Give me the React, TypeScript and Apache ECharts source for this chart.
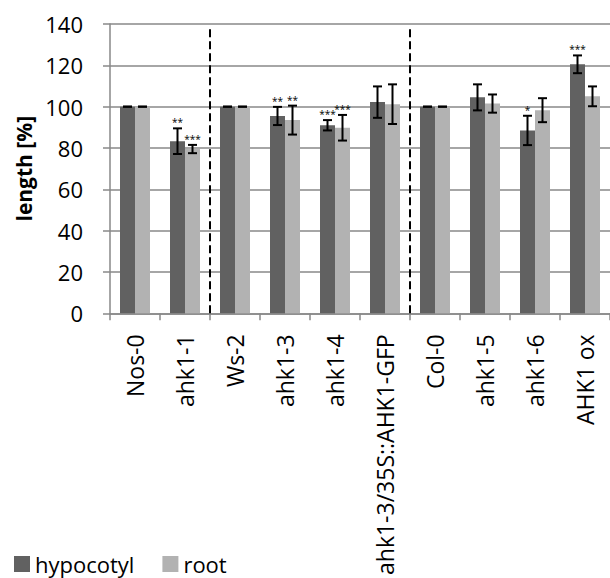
import React, { useEffect, useRef } from "react";
import * as echarts from "echarts";

// Relative hypocotyl and root length of cytokinin receptor lines vs. their wild types
const categories = [
  "Nos-0",
  "ahk1-1",
  "Ws-2",
  "ahk1-3",
  "ahk1-4",
  "ahk1-3/35S::AHK1-GFP",
  "Col-0",
  "ahk1-5",
  "ahk1-6",
  "AHK1 ox",
];
const hypocotyl = [100, 83.3, 100, 95.5, 91, 102.2, 100, 104.5, 88.5, 120.5];
const hypocotylErr = [0, 6.2, 0, 4.4, 2.5, 7.6, 0, 6.3, 7.1, 4.3];
const root = [100, 79.5, 100, 93.5, 89.8, 101.2, 100, 101.5, 98.3, 105];
const rootErr = [0, 2, 0, 7, 6.2, 9.6, 0, 4.4, 5.8, 4.8];
const hypocotylStars = ["", "**", "", "**", "***", "", "", "", "*", "***"];
const rootStars = ["", "***", "", "**", "***", "", "", "", "", ""];
// Category boundaries that separate the three wild-type groups
const groupDividers = [2, 6];
const dividerTop = 137.5;

const yTicks = { min: 0, max: 140, interval: 20 };

const FONT = "'Open Sans', 'DejaVu Sans', sans-serif";
const DARK = "#616161";
const LIGHT = "#b2b2b2";
const AXIS_GRAY = "#898989";
const BAR_W = 15;

function errorSeries(
  name: string,
  values: number[],
  errs: number[],
  stars: string[],
  offset: number
) {
  return {
    type: "custom",
    name,
    xAxisIndex: 0,
    yAxisIndex: 0,
    z: 5,
    data: values.map((v, i) => [i, v, errs[i]]),
    renderItem: (params: any, api: any) => {
      const i = api.value(0);
      const v = api.value(1);
      const e = api.value(2);
      const top = api.coord([i, v + e]);
      const bot = api.coord([i, v - e]);
      const x = top[0] + offset;
      const cap = 4.5;
      const lineStyle = { stroke: "#000", lineWidth: 2 };
      const children: any[] = [
        { type: "line", shape: { x1: x, y1: top[1], x2: x, y2: bot[1] }, style: lineStyle },
        { type: "line", shape: { x1: x - cap, y1: top[1], x2: x + cap, y2: top[1] }, style: lineStyle },
        { type: "line", shape: { x1: x - cap, y1: bot[1], x2: x + cap, y2: bot[1] }, style: lineStyle },
      ];
      const s = stars[params.dataIndex];
      if (s) {
        children.push({
          type: "text",
          x,
          y: top[1] - 6,
          style: {
            text: s,
            fill: "#000",
            font: `10px ${FONT}`,
            textAlign: "center",
            textVerticalAlign: "middle",
          },
        });
      }
      return { type: "group", children };
    },
  };
}

export default function App() {
  const ref = useRef<HTMLDivElement>(null);

  useEffect(() => {
    if (!ref.current) return;
    const chart = echarts.init(ref.current, undefined, { renderer: "svg" });
    chart.setOption({
      animation: false,
      backgroundColor: "#fff",
      textStyle: { fontFamily: FONT },
      grid: { left: 110, top: 24, width: 508, height: 290, containLabel: false },
      legend: {
        data: ["hypocotyl", "root"],
        left: 9,
        top: 548,
        icon: "rect",
        itemWidth: 16,
        itemHeight: 16,
        itemGap: 28,
        textStyle: { fontSize: 22, color: "#000", fontFamily: FONT },
      },
      xAxis: [
        {
          type: "category",
          data: categories,
          axisLine: { lineStyle: { color: AXIS_GRAY, width: 1.5 } },
          axisTick: { show: true, length: 7, lineStyle: { color: AXIS_GRAY, width: 1.5 } },
          axisLabel: {
            interval: 0,
            rotate: 90,
            margin: 21,
            fontSize: 23,
            color: "#000",
            fontFamily: FONT,
          },
          splitLine: { show: false },
        },
        {
          type: "value",
          min: 0,
          max: categories.length,
          show: false,
        },
      ],
      yAxis: {
        type: "value",
        min: yTicks.min,
        max: yTicks.max,
        interval: yTicks.interval,
        name: "length [%]",
        nameLocation: "middle",
        nameGap: 72,
        nameTextStyle: { fontSize: 21, fontWeight: "bold", color: "#000", fontFamily: FONT },
        axisLine: { show: true, lineStyle: { color: AXIS_GRAY, width: 1.5 } },
        axisTick: { show: true, length: 7, lineStyle: { color: AXIS_GRAY, width: 1.5 } },
        axisLabel: { margin: 27, fontSize: 22, color: "#000", fontFamily: FONT },
        splitLine: { lineStyle: { color: AXIS_GRAY, width: 1.5 } },
      },
      series: [
        {
          type: "bar",
          name: "hypocotyl",
          data: hypocotyl,
          barWidth: BAR_W,
          barGap: "0%",
          itemStyle: { color: DARK },
        },
        {
          type: "bar",
          name: "root",
          data: root,
          barWidth: BAR_W,
          barGap: "0%",
          itemStyle: { color: LIGHT },
        },
        errorSeries("hypocotyl-err", hypocotyl, hypocotylErr, hypocotylStars, -BAR_W / 2),
        errorSeries("root-err", root, rootErr, rootStars, BAR_W / 2),
        {
          type: "custom",
          name: "dividers",
          xAxisIndex: 1,
          yAxisIndex: 0,
          z: 6,
          data: groupDividers.map((d) => [d, dividerTop]),
          renderItem: (_params: any, api: any) => {
            const p0 = api.coord([api.value(0), 0]);
            const p1 = api.coord([api.value(0), api.value(1)]);
            return {
              type: "line",
              shape: { x1: p0[0], y1: p0[1], x2: p1[0], y2: p1[1] },
              style: { stroke: "#000", lineWidth: 2, lineDash: [8, 4] },
            };
          },
        },
      ],
    });
    return () => chart.dispose();
  }, []);

  return (
    <div
      ref={ref}
      style={{ position: "fixed", left: 0, top: 0, width: 610, height: 578 }}
    />
  );
}
